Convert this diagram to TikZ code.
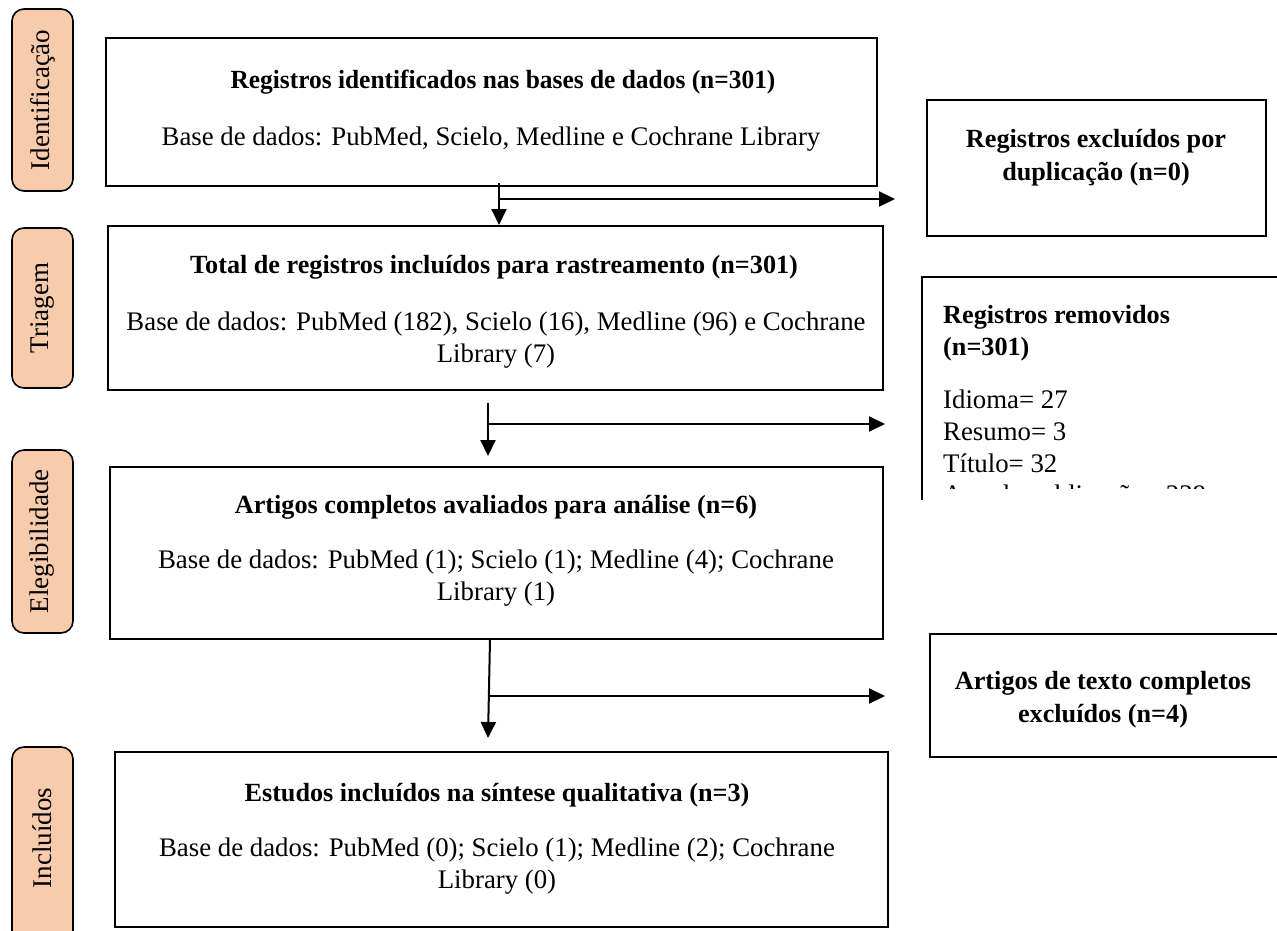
\documentclass[tikz,border=0pt]{standalone}
\usepackage{fontspec}
\setmainfont{Liberation Serif}
\usetikzlibrary{arrows.meta}
\definecolor{peach}{RGB}{248,203,173}
\begin{document}
\begin{tikzpicture}[x=1pt,y=-1pt,
  box/.style={draw,line width=2pt,rectangle,inner sep=0pt},
  side/.style={draw,line width=1.6pt,rounded corners=12pt,fill=peach,inner sep=0pt,minimum width=61pt},
  txt/.style={font=\fontsize{26.8}{32}\selectfont,inner sep=0pt,anchor=base},
  btxt/.style={txt,font=\fontsize{26.2}{32}\selectfont\bfseries},
  sidetxt/.style={font=\fontsize{27}{32}\selectfont,inner sep=0pt,rotate=90},
  arr/.style={line width=2pt,-{Triangle[length=16pt,width=15pt]}},
  ln/.style={line width=2pt}]
\useasboundingbox (0,0) rectangle (1277,930);
% side labels
\node[side,minimum height=182pt] (s1) at (42.5,100) {};
\node[sidetxt] at (s1.center) {Identificação};
\node[side,minimum height=160pt] (s2) at (42.5,308) {};
\node[sidetxt] at (s2.center) {Triagem};
\node[side,minimum height=183pt] (s3) at (42.5,541.5) {};
\node[sidetxt] at (s3.center) {Elegibilidade};
\node[side,minimum height=200pt] (s4) at (42.5,847) {};
\node[sidetxt] at (42.5,838) {Incluídos};
% main boxes
\node[box,minimum width=771pt,minimum height=148pt] (b1) at (491.5,112) {};
\node[btxt] at (503,88) {\scalebox{0.97}[1]{Registros identificados nas bases de dados (n=301)}};
\node[txt] at (491,145) {Base de dados: PubMed, Scielo, Medline e Cochrane Library};
\node[box,minimum width=775pt,minimum height=164pt] (b2) at (495.5,308) {};
\node[btxt] at (494,273) {Total de registros incluídos para rastreamento (n=301)};
\node[txt] at (496,330) {Base de dados: PubMed (182), Scielo (16), Medline (96) e Cochrane};
\node[txt] at (496,362) {Library (7)};
\node[box,minimum width=773pt,minimum height=172pt] (b3) at (496.5,552.5) {};
\node[btxt] at (496,513) {Artigos completos avaliados para análise (n=6)};
\node[txt] at (496,568) {Base de dados: PubMed (1); Scielo (1); Medline (4); Cochrane};
\node[txt] at (496,600) {Library (1)};
\node[box,minimum width=773pt,minimum height=175pt] (b4) at (501.5,839.5) {};
\node[btxt] at (497,801) {Estudos incluídos na síntese qualitativa (n=3)};
\node[txt] at (497,856) {Base de dados: PubMed (0); Scielo (1); Medline (2); Cochrane};
\node[txt] at (497,888) {Library (0)};
% right boxes
\node[box,minimum width=339pt,minimum height=136pt] (r1) at (1096.5,168) {};
\node[btxt] at (1096,147) {Registros excluídos por};
\node[btxt] at (1096,180) {duplicação (n=0)};
\coordinate (r2bl) at (922,500);
\coordinate (r2tl) at (922,277);
\coordinate (r2tr) at (1290,277);
\draw[ln] (r2bl) -- (r2tl) -- (r2tr);
\begin{scope}
  \clip (923,278) rectangle (1285,488);
  \node[btxt,anchor=base west] at (943,323) {Registros removidos};
  \node[btxt,anchor=base west] at (943,355) {(n=301)};
  \node[txt,anchor=base west] at (943,408) {Idioma= 27};
  \node[txt,anchor=base west] at (943,440) {Resumo= 3};
  \node[txt,anchor=base west] at (943,472) {Título= 32};
  \node[txt,anchor=base west] at (943,503) {Ano de publicação= 239};
\end{scope}
\node[box,minimum width=355pt,minimum height=123pt] (r3) at (1107.5,695.5) {};
\node[btxt] at (1103,689) {Artigos de texto completos};
\node[btxt] at (1103,722) {excluídos (n=4)};
% connectors
\coordinate (t1) at (499,183);
\coordinate (j1) at (499,199);
\coordinate (e1) at (895,199);
\draw[arr] (t1) -- (t1 |- b2.north);
\draw[arr] (j1) -- (e1);
\coordinate (t2) at (488,403);
\coordinate (d2) at (488,456);
\coordinate (j2) at (488,424);
\coordinate (e2) at (885,424);
\draw[arr] (t2) -- (d2);
\draw[arr] (j2) -- (e2);
\coordinate (t3) at (b3.south -| 490,0);
\coordinate (d3) at (488,738);
\coordinate (j3) at (489.2,696);
\coordinate (e3) at (885,696);
\draw[arr] (t3) -- (d3);
\draw[arr] (j3) -- (e3);
\end{tikzpicture}
\end{document}
